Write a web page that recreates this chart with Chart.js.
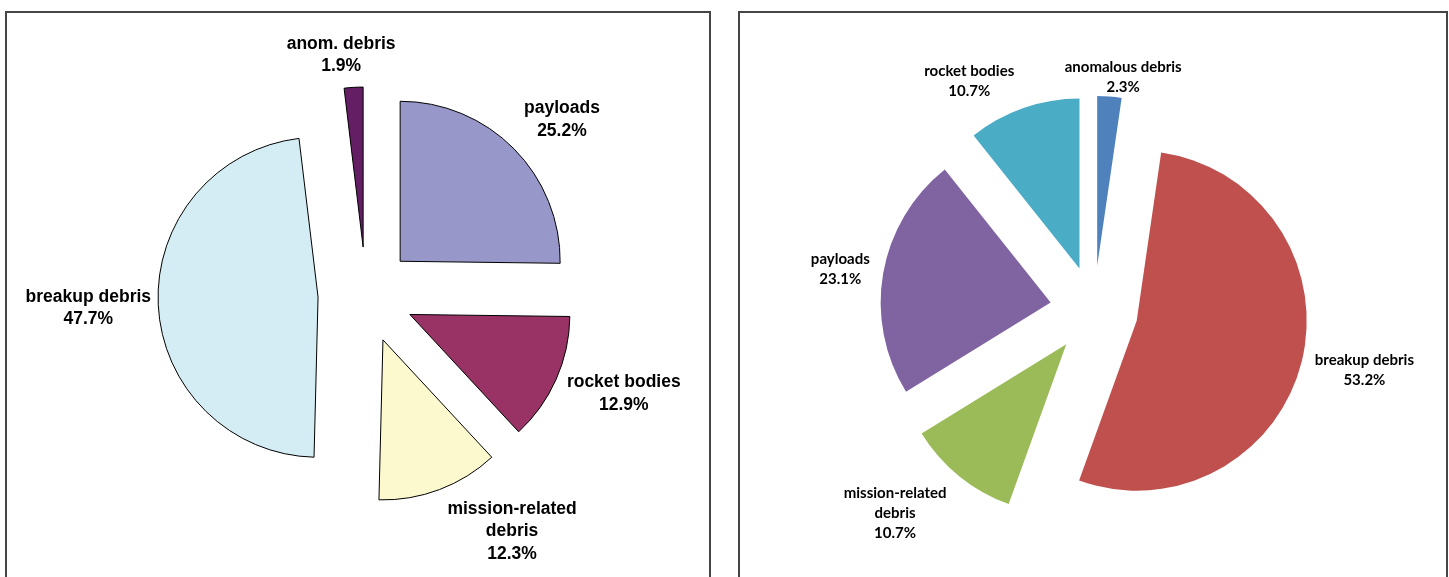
<!DOCTYPE html>
<html>
<head>
<meta charset="utf-8">
<title>Orbital debris composition</title>
<script src="https://cdn.jsdelivr.net/npm/chart.js@4"></script>
<style>
  html, body { margin: 0; padding: 0; background: #fff; overflow: hidden; }
  body { width: 1449px; height: 577px; position: relative; }
  .box { position: absolute; top: 11px; height: 620px; border: 2px solid #454545; box-sizing: border-box; }
  #boxLeft { left: 5px; width: 706px; }
  #boxRight { left: 738px; width: 710px; }
  canvas { position: absolute; top: 0; }
  #chartLeft { left: 0; }
  #chartRight { left: 739px; }
</style>
</head>
<body>
<div class="box" id="boxLeft"></div>
<div class="box" id="boxRight"></div>
<canvas id="chartLeft" width="732" height="590"></canvas>
<canvas id="chartRight" width="710" height="620"></canvas>

<script>
// ===== Data =====
const leftCategories = ['payloads', 'rocket bodies', 'mission-related debris', 'breakup debris', 'anom. debris'];
const leftValues = [25.2, 12.9, 12.3, 47.7, 1.9];

const rightCategories = ['anomalous debris', 'breakup debris', 'mission-related debris', 'payloads', 'rocket bodies'];
const rightValues = [2.3, 53.2, 10.7, 23.1, 10.7];

// ===== Helpers =====
function wrapText(ctx, text, maxWidth) {
  const words = text.split(' ');
  const lines = [];
  let cur = '';
  words.forEach(w => {
    const t = cur ? cur + ' ' + w : w;
    if (cur && ctx.measureText(t).width > maxWidth) {
      lines.push(cur);
      cur = w;
    } else {
      cur = t;
    }
  });
  lines.push(cur);
  return lines;
}

// Chart.js grows narrow arcs when an offset is set; keep every exploded slice at the pie radius
const flatOffset = {
  id: 'flatOffset',
  beforeDatasetDraw(chart, args) {
    args.meta.data.forEach(arc => { arc.circumference = Math.PI / 2; });
  }
};

// name + percentage outside each slice, along its bisector
const sliceLabels = {
  id: 'sliceLabels',
  afterDatasetsDraw(chart, args, opts) {
    const ctx = chart.ctx;
    const meta = chart.getDatasetMeta(0);
    const ds = chart.data.datasets[0];
    ctx.save();
    ctx.font = opts.font;
    ctx.fillStyle = '#000';
    ctx.textAlign = 'center';
    ctx.textBaseline = 'middle';
    meta.data.forEach((arc, i) => {
      const { x, y, startAngle, endAngle, outerRadius } = arc.getProps(['x', 'y', 'startAngle', 'endAngle', 'outerRadius'], true);
      const mid = (startAngle + endAngle) / 2 + opts.angleNudge[i] * Math.PI / 180;
      const dist = outerRadius + opts.explode + opts.distance[i];
      const cx = x + Math.cos(mid) * dist;
      const cy = y + Math.sin(mid) * dist;
      const lines = wrapText(ctx, chart.data.labels[i], opts.wrapWidth);
      lines.push(ds.data[i].toFixed(1) + '%');
      const top = cy - (lines.length - 1) * opts.lineHeight / 2;
      lines.forEach((line, k) => ctx.fillText(line, cx, top + k * opts.lineHeight));
    });
    ctx.restore();
  }
};

function makePie(id, labels, values, colors, cfg) {
  return new Chart(document.getElementById(id), {
    type: 'pie',
    data: {
      labels: labels,
      datasets: [{
        data: values,
        backgroundColor: colors,
        borderColor: cfg.borderColor,
        borderWidth: cfg.borderWidth,
        offset: cfg.explode * 4 // arcs are translated by a quarter of the offset
      }]
    },
    options: {
      responsive: false,
      animation: false,
      events: [],
      radius: cfg.radius,
      layout: { padding: 0 },
      plugins: {
        legend: { display: false },
        tooltip: { enabled: false },
        sliceLabels: {
          font: cfg.font,
          lineHeight: cfg.lineHeight,
          wrapWidth: cfg.wrapWidth,
          explode: cfg.explode,
          angleNudge: cfg.angleNudge,
          distance: cfg.distance
        }
      }
    },
    plugins: [flatOffset, sliceLabels]
  });
}

// ===== Left chart =====
makePie('chartLeft', leftCategories, leftValues,
  ['#9797C9', '#993366', '#FCF9CE', '#D4ECF3', '#641E64'],
  {
    radius: 160,
    explode: 48,
    borderColor: '#000',
    borderWidth: 1,
    font: 'bold 17.5px "Liberation Sans", Arial, sans-serif',
    lineHeight: 22.5,
    wrapWidth: 150,
    angleNudge: [2.8, -3, -11, 0, -2.5],
    distance: [55, 68, 70, 70, 33]
  });

// ===== Right chart =====
makePie('chartRight', rightCategories, rightValues,
  ['#4F81BD', '#C0504D', '#9BBB59', '#8064A2', '#4BACC6'],
  {
    radius: 170,
    explode: 44,
    borderColor: '#fff',
    borderWidth: 0,
    font: 'bold 15px Lato, "Open Sans", sans-serif',
    lineHeight: 20,
    wrapWidth: 140,
    angleNudge: [3, -1.5, 5.4, -0.7, -9.3],
    distance: [21, 63, 70, 43, 47]
  });
</script>
</body>
</html>
